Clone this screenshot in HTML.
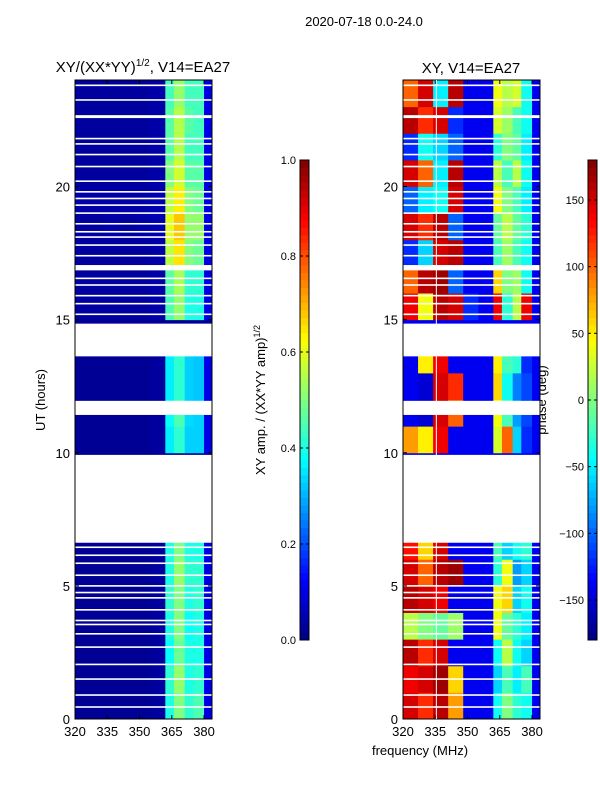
<!DOCTYPE html>
<html><head><meta charset="utf-8"><style>
body{margin:0;background:#fff;font-family:"Liberation Sans",sans-serif}
svg text{font-family:"Liberation Sans",sans-serif;fill:#000}
</style></head><body>
<svg id="s" width="600" height="800" xmlns="http://www.w3.org/2000/svg">
<text x="364" y="26" font-size="13" text-anchor="middle">2020-07-18 0.0-24.0</text>
<text x="143" y="72" font-size="15" text-anchor="middle">XY/(XX*YY)<tspan font-size="10" dy="-6">1/2</tspan><tspan dy="6">, V14=EA27</tspan></text>
<text x="471" y="73" font-size="15" text-anchor="middle">XY, V14=EA27</text>
<text transform="translate(45,400) rotate(-90)" font-size="13" text-anchor="middle">UT (hours)</text>
<text transform="translate(265,400) rotate(-90)" font-size="13" text-anchor="middle">XY amp. / (XX*YY amp)<tspan font-size="9" dy="-5">1/2</tspan></text>
<text transform="translate(546,400) rotate(-90)" font-size="13" text-anchor="middle">phase (deg)</text>
<text x="420" y="755" font-size="13" text-anchor="middle">frequency (MHz)</text>
<g id="g"></g>
</svg>
<script>
const freqEdges=[320,327,334,341,348,355,362,366,371,375,380,383.7];
const ampValues=[
[0.02,0.02,0.02,0.02,0.02,0.03,0.40,0.50,0.42,0.45,0.10],
[0.02,0.02,0.02,0.02,0.02,0.03,0.42,0.52,0.40,0.42,0.10],
[0.02,0.02,0.02,0.02,0.02,0.03,0.38,0.48,0.40,0.40,0.10],
[0.02,0.02,0.02,0.02,0.02,0.03,0.40,0.50,0.38,0.40,0.10],
[0.02,0.02,0.02,0.02,0.02,0.03,0.42,0.50,0.40,0.42,0.10],
[0.02,0.02,0.02,0.02,0.02,0.03,0.40,0.52,0.42,0.42,0.10],
[0.02,0.02,0.02,0.02,0.02,0.03,0.40,0.50,0.40,0.40,0.10],
[0.02,0.02,0.02,0.02,0.02,0.02,0.02,0.02,0.02,0.02,0.02],
[0.02,0.02,0.02,0.02,0.02,0.02,0.02,0.02,0.02,0.02,0.02],
[0.02,0.02,0.02,0.02,0.02,0.02,0.02,0.02,0.02,0.02,0.02],
[0.02,0.02,0.02,0.02,0.02,0.03,0.36,0.42,0.33,0.33,0.10],
[0.02,0.02,0.02,0.02,0.02,0.03,0.38,0.45,0.34,0.33,0.10],
[0.02,0.02,0.02,0.02,0.02,0.03,0.36,0.42,0.33,0.32,0.10],
[0.02,0.02,0.02,0.02,0.02,0.03,0.36,0.42,0.33,0.32,0.10],
[0.02,0.02,0.02,0.02,0.02,0.02,0.02,0.02,0.02,0.02,0.02],
[0.03,0.03,0.03,0.03,0.03,0.04,0.45,0.52,0.40,0.40,0.10],
[0.03,0.03,0.03,0.03,0.03,0.04,0.46,0.54,0.42,0.42,0.10],
[0.03,0.03,0.03,0.03,0.03,0.04,0.56,0.65,0.50,0.48,0.10],
[0.03,0.03,0.04,0.03,0.04,0.05,0.60,0.68,0.52,0.52,0.10],
[0.04,0.04,0.04,0.04,0.04,0.05,0.56,0.64,0.50,0.48,0.10],
[0.03,0.03,0.03,0.03,0.03,0.04,0.50,0.58,0.46,0.46,0.10],
[0.03,0.03,0.03,0.03,0.03,0.04,0.46,0.55,0.44,0.44,0.10],
[0.03,0.03,0.03,0.03,0.03,0.04,0.46,0.55,0.46,0.44,0.10],
[0.03,0.03,0.03,0.03,0.03,0.04,0.44,0.52,0.44,0.44,0.10]];
const phaseValues=[
[150,120,160,80,-140,-140,-40,0,-30,-40,-140],
[140,150,170,60,-140,-140,-60,-20,-50,-20,-140],
[160,120,150,-140,-140,-140,-40,20,-40,-60,-140],
[20,0,-10,10,-140,-140,40,-10,-30,-50,-140],
[160,150,140,-140,-140,-140,40,60,-60,-40,-140],
[150,100,160,170,-140,-140,-30,40,-80,-60,-140],
[130,60,150,-140,-140,-140,-20,-60,-40,-30,-140],
[-140,-140,-140,-140,-140,-140,-140,-140,-140,-140,-140],
[-140,-140,-140,-140,-140,-140,-140,-140,-140,-140,-140],
[-140,-140,-140,-140,-140,-140,-140,-140,-140,-140,-140],
[80,50,140,-140,-140,-140,30,100,-60,-120,-140],
[-140,-150,150,100,-140,-140,40,-20,-80,-110,-140],
[-140,-150,150,120,-140,-140,60,-40,-90,-110,-140],
[-140,50,140,-140,-140,-140,50,-20,-30,-120,-140],
[-140,-140,-140,-140,-140,-140,-140,-140,-140,-140,-140],
[140,40,160,150,-120,-140,140,-30,20,140,-140],
[100,160,170,-100,-140,-140,60,0,10,-40,-140],
[-120,-60,150,160,-140,-140,-20,10,-20,-40,-140],
[150,120,160,-100,-140,-140,-10,20,-10,-30,-140],
[-100,-50,-40,150,-140,-140,40,0,-20,-50,-140],
[150,100,-50,160,-140,-140,20,-20,20,-40,-140],
[-120,-40,-60,-100,-140,-140,-30,0,-10,-50,-140],
[160,120,150,-120,-140,-140,30,10,-20,-40,-140],
[100,150,-50,160,-140,-140,40,20,30,-40,-140]];
const flaggedSpans=[[6.62,9.92],[11.42,11.95],[13.62,14.85],[16.85,17.05]];
const flaggedLines=[0.45,0.9,1.5,2.05,2.7,3.2,3.55,3.7,4.1,4.55,4.75,5.0,5.4,5.85,6.15,6.45,
15.2,15.6,15.9,16.3,16.55,17.4,17.8,18.1,18.3,18.6,19.0,19.3,19.55,19.8,20.2,20.75,21.2,21.6,21.8,22.6,22.65,23.25,23.8];
const xTicks=[320,335,350,365,380];
const yTicks=[0,5,10,15,20];
const ampTicks=[0.0,0.2,0.4,0.6,0.8,1.0];
const phaseTicks=[150,100,50,0,-50,-100,-150];

const NS="http://www.w3.org/2000/svg",G=document.getElementById('g');
function mk(t,a){const e=document.createElementNS(NS,t);for(const k in a)e.setAttribute(k,a[k]);G.appendChild(e);return e;}
function jet(v){v=Math.max(0,Math.min(1,v));
 const c=x=>Math.round(255*Math.max(0,Math.min(1,x)));
 const r=c(Math.min(4*v-1.5,-4*v+4.5)),g=c(Math.min(4*v-0.5,-4*v+3.5)),b=c(Math.min(4*v+0.5,-4*v+2.5));
 return `rgb(${r},${g},${b})`;}
const Y0=719,Y1=80;
const yS=h=>Y0-(h/24)*(Y0-Y1);
function panel(x0,x1,vals,norm,name){
 const xS=f=>x0+(f-320)/(383.7-320)*(x1-x0);
 vals.forEach((row,i)=>{row.forEach((v,j)=>{
  const r=mk('rect',{x:xS(freqEdges[j]),y:yS(i+1),width:xS(freqEdges[j+1])-xS(freqEdges[j])+0.5,height:yS(i)-yS(i+1)+0.5,fill:jet(norm(v))});
  
  
 });});
 flaggedSpans.forEach(s=>{const r=mk('rect',{x:x0,y:yS(s[1]),width:x1-x0,height:yS(s[0])-yS(s[1]),fill:'#fff'});
  });
 flaggedLines.forEach(h=>{const r=mk('rect',{x:x0,y:yS(h)-0.8,width:x1-x0,height:1.6,fill:'#fff'});
  });
 const f=mk('rect',{x:x0,y:Y1,width:x1-x0,height:Y0-Y1,fill:'none',stroke:'#000','stroke-width':1});
 
 xTicks.forEach(t=>{const x=xS(t);mk('line',{x1:x,x2:x,y1:Y0,y2:Y0-4,stroke:'#000'});mk('line',{x1:x,x2:x,y1:Y1,y2:Y1+4,stroke:'#000'});
  const l=mk('text',{x:x,y:Y0+17,'font-size':13,'text-anchor':'middle'});l.textContent=t;
  });
 yTicks.forEach(t=>{const y=yS(t);mk('line',{x1:x0,x2:x0+4,y1:y,y2:y,stroke:'#000'});mk('line',{x1:x1,x2:x1-4,y1:y,y2:y,stroke:'#000'});
  const l=mk('text',{x:x0-5,y:y+5,'font-size':13,'text-anchor':'end'});l.textContent=t;
  });
 return xS;
}
panel(75,212,ampValues,v=>v,'amp-heatmap');
const xR=panel(403,540,phaseValues,v=>(v+180)/360,'phase-heatmap');
mk('line',{x1:xR(335.5),x2:xR(335.5),y1:Y1,y2:Y0,stroke:'#fff','stroke-width':1});
function cbar(x,ticks,lo,hi,name,fmt){
 const top=160,bot=640,n=64;
 for(let i=0;i<n;i++){const r=mk('rect',{x:x,y:bot-(i+1)*(bot-top)/n,width:9,height:(bot-top)/n+0.5,fill:jet((i+0.5)/n)});
  }
 const f=mk('rect',{x:x,y:top,width:9,height:bot-top,fill:'none',stroke:'#000'});
 
 ticks.forEach(t=>{const y=bot-(t-lo)/(hi-lo)*(bot-top);
  mk('line',{x1:x,x2:x+3,y1:y,y2:y,stroke:'#000'});mk('line',{x1:x+9,x2:x+6,y1:y,y2:y,stroke:'#000'});
  const l=mk('text',{x:x-4,y:y+4,'font-size':11,'text-anchor':'end'});l.textContent=fmt(t);
  });
}
cbar(300,ampTicks,0,1,'amp-colorbar',t=>t.toFixed(1));
cbar(588,phaseTicks,-180,180,'phase-colorbar',t=>t<0?'\u2212'+(-t):''+t);
</script>
</body></html>
